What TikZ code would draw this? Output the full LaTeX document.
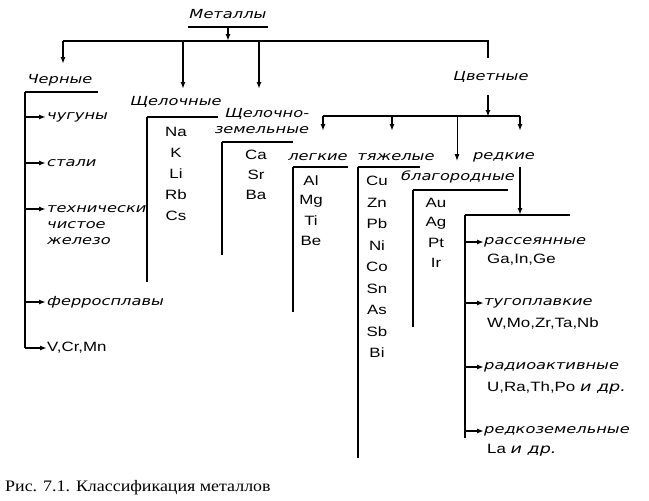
\documentclass[tikz,border=0pt]{standalone}
\usepackage{fontspec}
\setmainfont{Liberation Serif}
\newfontfamily\lblfont[FakeStretch=1.3]{DejaVu Sans}
\newfontfamily\elfont[FakeStretch=1.25]{Liberation Sans}
\newfontfamily\capfont[FakeStretch=1.12]{Liberation Serif}
\usetikzlibrary{arrows.meta}
\tikzset{
  lbl/.style={inner sep=0pt,font=\lblfont\itshape\fontsize{12.5}{16}\selectfont},
  elem/.style={inner sep=0pt,font=\elfont\fontsize{13.5}{16}\selectfont},
  bar/.style={line width=1.8pt},
  colline/.style={line width=2.2pt},
  arr/.style={line width=1.6pt,-{Latex[length=7pt,width=5pt]}},
}

\begin{document}
\begin{tikzpicture}[x=1pt,y=-1pt]
\useasboundingbox (0,0) rectangle (649,501);
%this draws the top
\node[lbl] (met) at (228,14) {Металлы};
\coordinate (metL) at (188,27);
\coordinate (metR) at (268,27);
\coordinate (metD) at (228,27);
\coordinate (metB) at (228,41);
\draw[bar] (metL) -- (metR);
\draw[arr] (metD) -- (metB);
\coordinate (busL) at (63,41);
\coordinate (busR) at (488,41);
\coordinate (busD) at (488,58);
\draw[bar] (busL) -- (busR) -- (busD);
%this draws the black metals
\node[lbl] (blk) at (60,80) {Черные};
\coordinate (blkA) at (63,64);
\draw[arr] (busL) -- (blkA);
\coordinate (blkL) at (25,92);
\coordinate (blkR) at (98,92);
\draw[bar] (blkL) -- (blkR);
\node[lbl,anchor=west] (b1) at (47,117) {чугуны};
\node[lbl,anchor=west] (b2) at (47,163) {стали};
\node[lbl,anchor=west,align=left] (b3) at (47,225) {технически\\чистое\\железо};
\node[lbl,anchor=west] (b4) at (47,302) {ферросплавы};
\node[elem,anchor=west] (b5) at (47,348) {V,Cr,Mn};
\coordinate (blkE) at (25,348);
\draw[colline] (blkL) -- (blkE);
\draw[arr] (blkE) -- (b5.west);
\foreach \n/\y in {b1/117,b2/163,b3/209,b4/302}
  \draw[arr] (25,\y) -- (46,\y);
%this draws the alkali metals
\coordinate (alkT) at (183,41);
\coordinate (alkA) at (183,89);
\draw[arr] (alkT) -- (alkA);
\node[lbl] (alk) at (176,102) {Щелочные};
\coordinate (alkL) at (147,117);
\coordinate (alkR) at (218,117);
\coordinate (alkE) at (147,282);
\draw[bar] (alkL) -- (alkR);
\draw[colline] (alkL) -- (alkE);
\foreach \el [count=\i] in {Na,K,Li,Rb,Cs}
  \node[elem] (alk\i) at (176,{132+21*(\i-1)}) {\el};
%this draws the alkaline earth metals
\coordinate (earT) at (259,41);
\coordinate (earA) at (259,89);
\draw[arr] (earT) -- (earA);
\node[lbl,align=right] (ear) at (262,121) {Щелочно-\\земельные};
\coordinate (earL) at (222,142);
\coordinate (earR) at (293,142);
\coordinate (earE) at (222,255);
\draw[bar] (earL) -- (earR);
\draw[colline] (earL) -- (earE);
\foreach \el [count=\i] in {Ca,Sr,Ba}
  \node[elem] (ear\i) at (256,{155+20*(\i-1)}) {\el};
%this draws the non-ferrous metals
\node[lbl] (nfe) at (491,77) {Цветные};
\coordinate (nfeT) at (488,95);
\coordinate (nfeB) at (488,117);
\draw[arr] (nfeT) -- (nfeB);
\coordinate (subL) at (323,116);
\coordinate (subR) at (520,116);
\draw[bar] (subL) -- (subR);
\coordinate (ligA) at (323,131);
\coordinate (heaT) at (392,116);
\coordinate (heaA) at (392,131);
\coordinate (nobT) at (457,116);
\coordinate (nobA) at (457,161);
\coordinate (rarA) at (520,131);
\draw[arr] (subL) -- (ligA);
\draw[arr] (heaT) -- (heaA);
\draw[line width=1pt,-{Latex[length=7pt,width=5pt]}] (nobT) -- (nobA);
\draw[arr] (subR) -- (rarA);
%light
\node[lbl] (lig) at (318,157) {легкие};
\coordinate (ligL) at (293,167);
\coordinate (ligR) at (348,167);
\coordinate (ligE) at (293,312);
\draw[bar] (ligL) -- (ligR);
\draw[colline] (ligL) -- (ligE);
\foreach \el [count=\i] in {Al,Mg,Ti,Be}
  \node[elem] (lig\i) at (311,{181+20*(\i-1)}) {\el};
%heavy
\node[lbl] (hea) at (396,157) {тяжелые};
\coordinate (heaL) at (358,167);
\coordinate (heaR) at (420,167);
\coordinate (heaE) at (358,458);
\draw[bar] (heaL) -- (heaR);
\draw[colline] (heaL) -- (heaE);
\foreach \el [count=\i] in {Cu,Zn,Pb,Ni,Co,Sn,As,Sb,Bi}
  \node[elem] (hea\i) at (377,{181+21.5*(\i-1)}) {\el};
%noble
\node[lbl] (nob) at (458,177) {благородные};
\coordinate (nobL) at (413,190);
\coordinate (nobR) at (508,190);
\coordinate (nobE) at (413,327);
\draw[bar] (nobL) -- (nobR);
\draw[colline] (nobL) -- (nobE);
\foreach \el [count=\i] in {Au,Ag,Pt,Ir}
  \node[elem] (nob\i) at (436,{203+20*(\i-1)}) {\el};
%rare
\node[lbl] (rar) at (504,157) {редкие};
\coordinate (rarT) at (520,167);
\coordinate (rarB) at (520,215);
\draw[arr] (rarT) -- (rarB);
\coordinate (rarL) at (465,215);
\coordinate (rarR) at (570,215);
\coordinate (rarE) at (465,438);
\draw[bar] (rarL) -- (rarR);
\draw[colline] (rarL) -- (rarE);
\node[lbl,anchor=west] (r1) at (484,242) {рассеянные};
\node[elem,anchor=west] (r1e) at (487,260) {Ga,In,Ge};
\node[lbl,anchor=west] (r2) at (484,303) {тугоплавкие};
\node[elem,anchor=west] (r2e) at (487,323) {W,Mo,Zr,Ta,Nb};
\node[lbl,anchor=west] (r3) at (484,367) {радиоактивные};
\node[elem,anchor=west] (r3e) at (487,388) {U,Ra,Th,Po {\lblfont\itshape и др.}};
\node[lbl,anchor=west] (r4) at (484,431) {редкоземельные};
\node[elem,anchor=west] (r4e) at (487,450) {La {\lblfont\itshape и др.}};
\foreach \n in {r1,r2,r3,r4}
  \draw[arr] (\n.west -| rarL) -- (\n.west);
%caption
\node[anchor=west,inner sep=0pt,font=\capfont\fontsize{16}{18}\selectfont] (cap) at (5,488) {Рис. 7.1. Классификация металлов};
\end{tikzpicture}
\end{document}
